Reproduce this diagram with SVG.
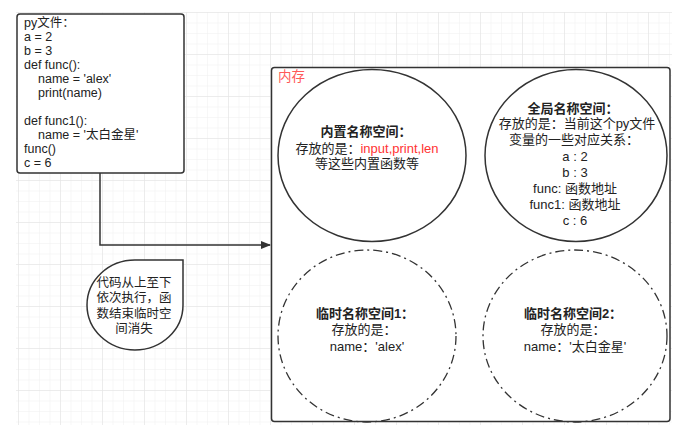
<svg xmlns="http://www.w3.org/2000/svg" width="688" height="433" viewBox="0 0 688 433">
<defs>
  <pattern id="minor" x="18" y="12" width="10.5" height="10.5" patternUnits="userSpaceOnUse">
    <path d="M0 0 V10.5 M0 0 H10.5" stroke="#efefef" stroke-width="1" fill="none"/>
  </pattern>
  <pattern id="major" x="18" y="12" width="42" height="42" patternUnits="userSpaceOnUse">
    <path d="M0 0 V42 M0 0 H42" stroke="#e2e2e2" stroke-width="1" fill="none"/>
  </pattern>
  <marker id="arrow" markerWidth="10" markerHeight="8" refX="9" refY="4" orient="auto" markerUnits="userSpaceOnUse">
    <path d="M0 0 L10 4 L0 8 Z" fill="#333"/>
  </marker>
  <style>
    text { font-family: "Liberation Sans", "Noto Sans CJK SC", sans-serif; fill: #222; }
    .code { font-size: 12.5px; }
    .note { font-size: 12.5px; text-anchor: middle; }
    .c { font-size: 13px; text-anchor: middle; }
    .b { font-weight: bold; }
    .red { fill: #ff3333; }
    .shape { fill: #fff; stroke: #333; stroke-width: 1.5; }
    .dd { fill: none; stroke: #333; stroke-width: 1.3; stroke-dasharray: 9 4 2 4; }
    .line { fill: none; stroke: #333; stroke-width: 1.5; }
  </style>
</defs>
<rect width="688" height="433" fill="#fff"/>
<rect x="16" y="12" width="656" height="413" fill="url(#minor)"/>
<rect x="16" y="12" width="656" height="413" fill="url(#major)"/>

<g id="connectors">
  <path class="line" d="M100 173 V245 H270" marker-end="url(#arrow)"/>
</g>

<g id="code-file">
  <rect class="shape" x="17" y="14" width="167" height="159" rx="3"/>
  <text class="code" x="24" y="26.5">py文件：</text>
  <text class="code" x="24" y="40.5">a = 2</text>
  <text class="code" x="24" y="54.5">b = 3</text>
  <text class="code" x="24" y="68.5">def func():</text>
  <text class="code" x="38" y="82.5">name = 'alex'</text>
  <text class="code" x="38" y="96.5">print(name)</text>
  <text class="code" x="24" y="124.5">def func1():</text>
  <text class="code" x="38" y="138.5">name = '太白金星'</text>
  <text class="code" x="24" y="152.5">func()</text>
  <text class="code" x="24" y="166.5">c = 6</text>
</g>

<g id="note">
  <path class="shape" d="M183 260 V305 A48 45 0 1 1 135 260 Z"/>
  <text class="note" x="134" y="287">代码从上至下</text>
  <text class="note" x="134" y="302">依次执行，函</text>
  <text class="note" x="134" y="318">数结束临时空</text>
  <text class="note" x="134" y="333">间消失</text>
</g>

<g id="memory">
  <rect class="shape" x="271.5" y="67.5" width="398.5" height="354" rx="3"/>
  <text x="278" y="81" font-size="13.5" style="fill:#ff5a5a">内存</text>
</g>

<g id="builtin-namespace">
  <ellipse class="shape" cx="372" cy="155.5" rx="94" ry="86"/>
  <text class="c b" x="366" y="135.5">内置名称空间：</text>
  <text class="c" x="367" y="152.5">存放的是：<tspan class="red">input,print,len</tspan></text>
  <text class="c" x="367" y="168">等这些内置函数等</text>
</g>

<g id="global-namespace">
  <ellipse class="shape" cx="576" cy="155.5" rx="91" ry="86"/>
  <text class="c b" x="573" y="112.5">全局名称空间：</text>
  <text class="c" x="577" y="128">存放的是：当前这个py文件</text>
  <text class="c" x="574" y="144">变量的一些对应关系：</text>
  <text class="c" x="575" y="161">a : 2</text>
  <text class="c" x="575" y="177">b : 3</text>
  <text class="c" x="575" y="193">func: 函数地址</text>
  <text class="c" x="575" y="209">func1: 函数地址</text>
  <text class="c" x="575" y="225">c : 6</text>
</g>

<g id="temp-namespace-1">
  <ellipse class="dd" cx="367" cy="336" rx="89" ry="86"/>
  <text class="c b" x="365" y="317.5">临时名称空间1：</text>
  <text class="c" x="364" y="333.5">存放的是：</text>
  <text class="c" x="367" y="350.5">name：'alex'</text>
</g>

<g id="temp-namespace-2">
  <ellipse class="dd" cx="575" cy="336" rx="92" ry="86"/>
  <text class="c b" x="573" y="317.5">临时名称空间2：</text>
  <text class="c" x="573" y="333.5">存放的是：</text>
  <text class="c" x="575" y="350.5">name：'太白金星'</text>
</g>
</svg>
